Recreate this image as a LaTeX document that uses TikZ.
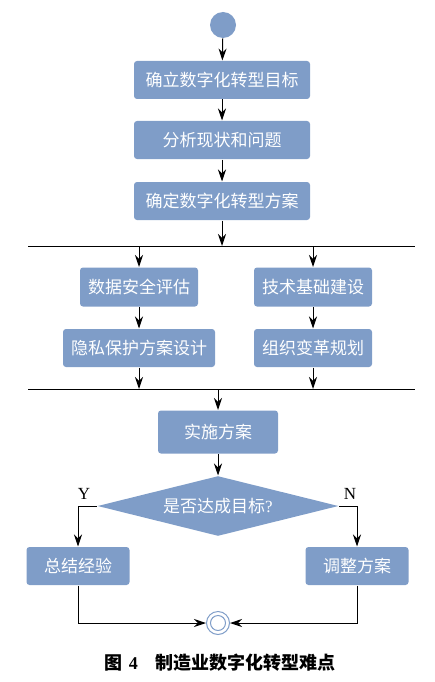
\documentclass[tikz,border=0pt]{standalone}
\usepackage{fontspec}
\newfontfamily\cjk{Noto Sans CJK SC}
\newfontfamily\lat{Liberation Serif}
\usetikzlibrary{arrows.meta,shapes.geometric}
\definecolor{boxblue}{RGB}{127,157,200}
\tikzset{>={Stealth[length=12pt,width=8pt,inset=4pt]}}
\tikzset{box/.style={fill=boxblue,rounded corners=3pt,text=white,inner sep=0pt,minimum height=38pt,font=\cjk\fontsize{17}{17}\selectfont}}

\begin{document}
\begin{tikzpicture}[x=1pt,y=-1pt,line width=1pt]
			\useasboundingbox (0,0) rectangle (435,682);
			\node[circle,fill=boxblue,minimum size=26pt,inner sep=0pt] (start) at (223,25) {};
			\node[box,minimum width=176pt] (goal) at (222,80) {确立数字化转型目标};
			\node[box,minimum width=176pt] (analyse) at (222,140) {分析现状和问题};
			\node[box,minimum width=176pt] (plan) at (222,201) {确定数字化转型方案};
			\node[box,minimum width=118pt,minimum height=39pt] (security) at (139,287) {数据安全评估};
			\node[box,minimum width=152pt] (privacy) at (139,348) {隐私保护方案设计};
			\node[box,minimum width=118pt,minimum height=39pt] (tech) at (313,287) {技术基础建设};
			\node[box,minimum width=118pt] (org) at (313,348) {组织变革规划};
			\node[box,minimum width=120pt,minimum height=43pt] (impl) at (218,432) {实施方案};
			\node[diamond,fill=boxblue,text=white,inner sep=0pt,aspect=4,minimum width=241pt,minimum height=60pt,font=\cjk\fontsize{17}{17}\selectfont] (check) at (218,506) {是否达成目标{\lat ?}};
			\node[box,minimum width=103pt] (sum) at (78,566) {总结经验};
			\node[box,minimum width=103pt] (adjust) at (357,566) {调整方案};
			\node[circle,draw=boxblue,minimum size=23pt,inner sep=0pt] (stop) at (218,623) {};
			\draw[boxblue] (stop) circle [radius=7.5pt];
			\coordinate (forkw) at (28,246);
			\coordinate (forke) at (415,246);
			\coordinate (forkc) at (222,246);
			\coordinate (forkl) at (139,246);
			\coordinate (forkr) at (313,246);
			\coordinate (joinw) at (28,389);
			\coordinate (joine) at (415,389);
			\coordinate (joinc) at (218,389);
			\coordinate (joinl) at (139,389);
			\coordinate (joinr) at (313,389);
			\draw[->] (start) -- (goal);
			\draw[->] (goal) -- (analyse);
			\draw[->] (analyse) -- (plan);
			\draw[->] (plan) -- (forkc);
			\draw (forkw) -- (forke);
			\draw[->] (forkl) -- (security);
			\draw[->] (forkr) -- (tech);
			\draw[->] (security) -- (privacy);
			\draw[->] (tech) -- (org);
			\draw[->] (privacy) -- (joinl);
			\draw[->] (org) -- (joinr);
			\draw (joinw) -- (joine);
			\draw[->] (joinc) -- (impl);
			\draw[->] (impl) -- (check);
			\draw[->] (check.west) -| (sum);
			\draw[->] (check.east) -| (adjust);
			\draw[->] (sum) |- (stop);
			\draw[->] (adjust) |- (stop);
			\node[font=\lat\fontsize{17}{17}\selectfont] (yes) at (84,494) {Y};
			\node[font=\lat\fontsize{17}{17}\selectfont] (no) at (350,494) {N};
			\node[font=\fontsize{18}{18}\selectfont\bfseries] (caption) at (220,663) {{\cjk 图} {\lat 4}\quad{\cjk 制造业数字化转型难点}};
		\end{tikzpicture}
\end{document}
